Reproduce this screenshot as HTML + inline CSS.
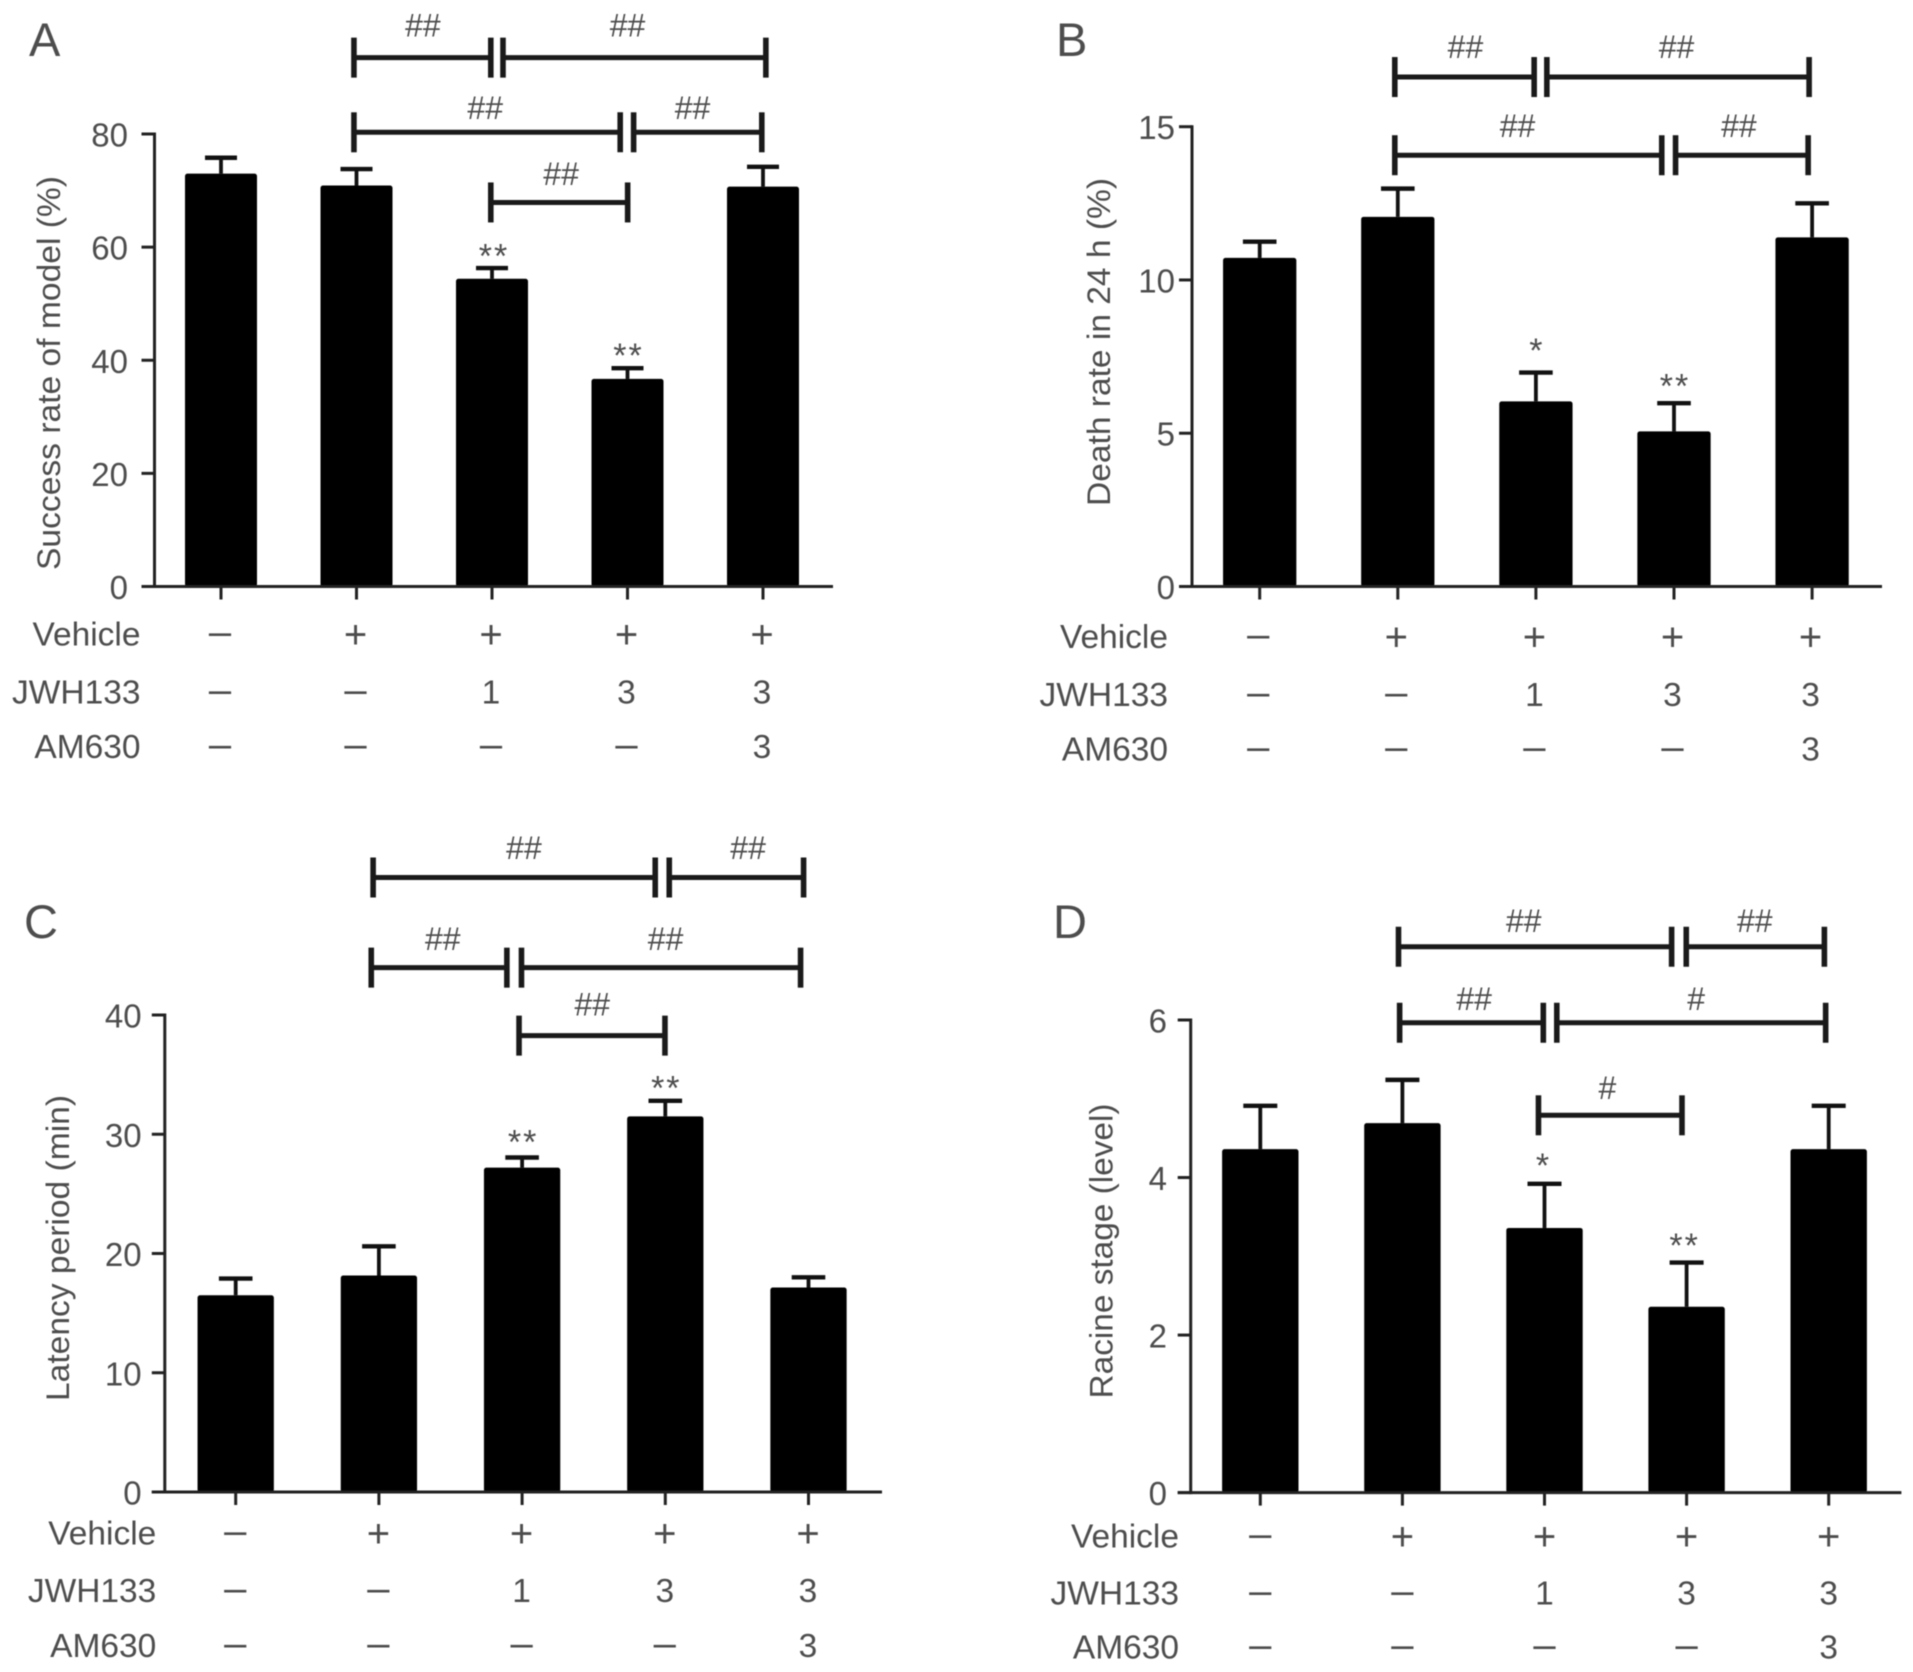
<!DOCTYPE html>
<html lang="en">
<head>
<meta charset="utf-8">
<title>JWH133 and AM630 bar charts</title>
<style>
  html, body { margin: 0; padding: 0; background: #fff; }
  #figure { display: block; width: 1913px; height: 1672px; filter: blur(0.6px); }
  #figure text { font-family: "Liberation Sans", sans-serif; fill: #4d4d4d; }
</style>
</head>
<body>
<svg id="figure" xmlns="http://www.w3.org/2000/svg" width="1913" height="1672" viewBox="0 0 1913 1672"></svg>
<script>
// Shared treatment table
const vehicleRow = ['–', '+', '+', '+', '+'];
const jwhRow = ['–', '–', '1', '3', '3'];
const amRow = ['–', '–', '–', '–', '3'];

// Panel A: success rate of model (%)
const aValues = [73.0, 70.9, 54.4, 36.7, 70.7];
const aUpper = [75.8, 73.8, 56.3, 38.6, 74.2];
const aTicks = [0, 20, 40, 60, 80];

// Panel B: death rate in 24 h (%)
const bValues = [10.72, 12.06, 6.04, 5.06, 11.39];
const bUpper = [11.25, 12.98, 6.98, 5.98, 12.5];
const bTicks = [0, 5, 10, 15];

// Panel C: latency period (min)
const cValues = [16.5, 18.15, 27.2, 31.5, 17.15];
const cUpper = [17.9, 20.6, 28.05, 32.8, 18.0];
const cTicks = [0, 10, 20, 30, 40];

// Panel D: Racine stage (level)
const dValues = [4.36, 4.69, 3.36, 2.36, 4.36];
const dUpper = [4.91, 5.24, 3.92, 2.92, 4.91];
const dTicks = [0, 2, 4, 6];

const svg = document.getElementById('figure');
const NS = 'http://www.w3.org/2000/svg';
const INK = '#222';

function make(tag, attrs, parent) {
  const el = document.createElementNS(NS, tag);
  for (const k in attrs) el.setAttribute(k, attrs[k]);
  parent.appendChild(el);
  return el;
}

function makeLine(x1, y1, x2, y2, width, color, parent, name) {
  const el = make('line', { x1: x1, y1: y1, x2: x2, y2: y2, stroke: color, 'stroke-width': width }, parent);
  
  
  return el;
}

function makeText(x, y, str, size, anchor, parent, name) {
  const el = make('text', { x: x, y: y, 'font-size': size, 'text-anchor': anchor }, parent);
  el.textContent = str;
  
  
  return el;
}

function buildPanel(p) {
  const g = make('g', {}, svg);
  
  

  const yScale = v => p.baseY - (v / p.maxVal) * (p.baseY - p.topY);
  const xScale = i => p.x0 + i * p.step;

  makeText(p.labelX, p.labelY - 1, p.id, 47, 'start', g, 'panel-label-' + p.id.toLowerCase());

  // Bars and error bars
  p.values.forEach((v, i) => {
    const cx = xScale(i);
    const topY = yScale(p.upper[i]);
    makeLine(cx, yScale(v), cx, topY, 3.8, '#111', g, 'error-stem-' + i);
    makeLine(cx - p.capW / 2, topY, cx + p.capW / 2, topY, 4.4, '#111', g, 'error-cap-' + i);
    const bar = make('rect', { x: cx - p.barW / 2, y: yScale(v), width: p.barW, height: p.baseY - yScale(v), rx: 2.5, fill: '#000' }, g);
    
    
  });

  // Axes
  makeLine(p.axisX, p.topY - 1.5, p.axisX, p.baseY + 1.5, 3, INK, g, 'y-axis-line');
  makeLine(p.axisX - 13, p.baseY, p.right, p.baseY, 3, INK, g, 'x-axis-line');

  p.ticks.forEach(t => {
    const y = yScale(t);
    makeLine(p.axisX - 13, y, p.axisX, y, 3, INK, g, 'y-tick-' + t);
    makeText(p.tickRight, y + 12.5, String(t), 33, 'end', g, 'y-tick-label-' + t);
  });

  p.values.forEach((v, i) => {
    makeLine(xScale(i), p.baseY, xScale(i), p.baseY + 13, 3, INK, g, 'x-tick-' + i);
  });

  // Y-axis title
  const title = makeText(0, 0, p.title, 32, 'middle', g, 'y-axis-title');
  title.setAttribute('transform', 'translate(' + (p.titleX + 10) + ' ' + p.titleY + ') rotate(-90)');
  title.setAttribute('textLength', p.titleLen);
  title.setAttribute('lengthAdjust', 'spacingAndGlyphs');

  // Treatment rows
  const rows = [
    { name: 'Vehicle', cells: vehicleRow, y: p.rowY[0] },
    { name: 'JWH133', cells: jwhRow, y: p.rowY[1] },
    { name: 'AM630', cells: amRow, y: p.rowY[2] }
  ];
  rows.forEach(row => {
    const key = row.name.toLowerCase();
    makeText(p.rowRight, row.y + 9.5, row.name, 33.5, 'end', g, 'row-label-' + key);
    row.cells.forEach((c, i) => {
      const cx = xScale(i) + p.colShift - 1;
      const isSym = c === '+' || c === '–';
      const size = isSym ? 40 : 33.5;
      const off = c === '+' ? 12 : (c === '–' ? 9 : 9.5);
      makeText(cx, row.y + off, c, size, 'middle', g, 'cell-' + key + '-' + i);
    });
  });

  // Significance annotation helpers, in axis units
  p.brackets.forEach(b => {
    const y = yScale(b.level);
    const x1 = xScale(b.from) - 1.2;
    const x2 = xScale(b.to) - 1.2;
    makeLine(x1, y, x2, y, 5, '#1a1a1a', g, 'significance-bracket-line');
    makeLine(x1, y - 20, x1, y + 20, 5.6, '#1a1a1a', g, 'significance-bracket-left-end');
    makeLine(x2, y - 20, x2, y + 20, 5.6, '#1a1a1a', g, 'significance-bracket-right-end');
    if (b.label) {
      makeText(xScale(b.labelAt), yScale(b.labelLevel) + 10.5, b.label, 32, 'middle', g, 'significance-hash-label');
    }
  });

  p.stars.forEach(s => {
    const y = yScale(p.upper[s.bar]) - s.gap;
    const star = makeText(xScale(s.bar) + s.dx - 1, y + 17, s.mark, 34, 'middle', g, 'significance-star-' + s.bar);
    star.setAttribute('letter-spacing', '2');
  });
}

buildPanel({
  id: 'A', labelX: 29, labelY: 57,
  values: aValues, upper: aUpper, ticks: aTicks, maxVal: 80,
  axisX: 154.5, baseY: 586.5, topY: 134, right: 833,
  x0: 221, step: 135.5, barW: 72, capW: 32,
  tickRight: 128, title: 'Success rate of model (%)', titleX: 50, titleY: 373, titleLen: 394,
  rowRight: 140.5, rowY: [636, 694, 748.6], colShift: 0,
  brackets: [
    { from: 0.99, to: 2.0, level: 93.5, label: '##', labelAt: 1.49, labelLevel: 99.1 },
    { from: 2.09, to: 4.03, level: 93.5, label: '##', labelAt: 3.0, labelLevel: 99.1 },
    { from: 0.99, to: 2.955, level: 80.3, label: '##', labelAt: 1.95, labelLevel: 84.5 },
    { from: 3.054, to: 4.0, level: 80.3, label: '##', labelAt: 3.48, labelLevel: 84.5 },
    { from: 2.0, to: 3.01, level: 67.9, label: '##', labelAt: 2.51, labelLevel: 72.8 }
  ],
  stars: [
    { bar: 2, gap: 17.5, dx: 3, mark: '**' },
    { bar: 3, gap: 18, dx: 2, mark: '**' }
  ]
});

buildPanel({
  id: 'B', labelX: 1056, labelY: 57,
  values: bValues, upper: bUpper, ticks: bTicks, maxVal: 15,
  axisX: 1192, baseY: 586.5, topY: 126.7, right: 1882,
  x0: 1259.7, step: 138.1, barW: 73.3, capW: 33.6,
  tickRight: 1175, title: 'Death rate in 24 h (%)', titleX: 1100, titleY: 342, titleLen: 328,
  rowRight: 1168, rowY: [638.6, 696.4, 751], colShift: -0.5,
  brackets: [
    { from: 0.987, to: 1.996, level: 16.62, label: '##', labelAt: 1.49, labelLevel: 17.58 },
    { from: 2.088, to: 3.987, level: 16.62, label: '##', labelAt: 3.018, labelLevel: 17.58 },
    { from: 0.987, to: 2.92, level: 14.07, label: '##', labelAt: 1.867, labelLevel: 15.0 },
    { from: 3.02, to: 3.98, level: 14.07, label: '##', labelAt: 3.47, labelLevel: 15.0 }
  ],
  stars: [
    { bar: 2, gap: 27.6, dx: 2, mark: '*' },
    { bar: 3, gap: 22.5, dx: 2, mark: '**' }
  ]
});

buildPanel({
  id: 'C', labelX: 24, labelY: 939,
  values: cValues, upper: cUpper, ticks: cTicks, maxVal: 40,
  axisX: 164.8, baseY: 1492, topY: 1015, right: 882,
  x0: 235.7, step: 143.2, barW: 76.3, capW: 33.6,
  tickRight: 141.6, title: 'Latency period (min)', titleX: 59, titleY: 1248, titleLen: 306,
  rowRight: 156.3, rowY: [1535, 1592.3, 1647.4], colShift: 0.5,
  brackets: [
    { from: 0.968, to: 2.938, level: 51.53, label: '##', labelAt: 2.013, labelLevel: 53.96 },
    { from: 3.036, to: 3.974, level: 51.53, label: '##', labelAt: 3.578, labelLevel: 53.96 },
    { from: 0.955, to: 1.902, level: 43.97, label: '##', labelAt: 1.446, labelLevel: 46.35 },
    { from: 2.004, to: 3.953, level: 43.97, label: '##', labelAt: 3.002, labelLevel: 46.35 },
    { from: 1.987, to: 3.006, level: 38.27, label: '##', labelAt: 2.49, labelLevel: 40.84 }
  ],
  stars: [
    { bar: 2, gap: 21, dx: 2, mark: '**' },
    { bar: 3, gap: 18.4, dx: 2, mark: '**' }
  ]
});

buildPanel({
  id: 'D', labelX: 1053, labelY: 939,
  values: dValues, upper: dUpper, ticks: dTicks, maxVal: 6,
  axisX: 1190.7, baseY: 1492.6, topY: 1020, right: 1901.4,
  x0: 1260.3, step: 142.1, barW: 76.4, capW: 34,
  tickRight: 1167, title: 'Racine stage (level)', titleX: 1102.7, titleY: 1251, titleLen: 295,
  rowRight: 1179, rowY: [1537.8, 1595, 1649], colShift: 1,
  brackets: [
    { from: 0.981, to: 2.903, level: 6.93, label: '##', labelAt: 1.854, labelLevel: 7.25 },
    { from: 3.006, to: 3.978, level: 6.93, label: '##', labelAt: 3.48, labelLevel: 7.25 },
    { from: 0.989, to: 2.0, level: 5.965, label: '##', labelAt: 1.505, labelLevel: 6.26 },
    { from: 2.095, to: 3.987, level: 5.965, label: '#', labelAt: 3.067, labelLevel: 6.26 },
    { from: 1.966, to: 2.976, level: 4.79, label: '#', labelAt: 2.443, labelLevel: 5.13 }
  ],
  stars: [
    { bar: 2, gap: 24, dx: 0, mark: '*' },
    { bar: 3, gap: 22.8, dx: -1, mark: '**' }
  ]
});
</script>
</body>
</html>
